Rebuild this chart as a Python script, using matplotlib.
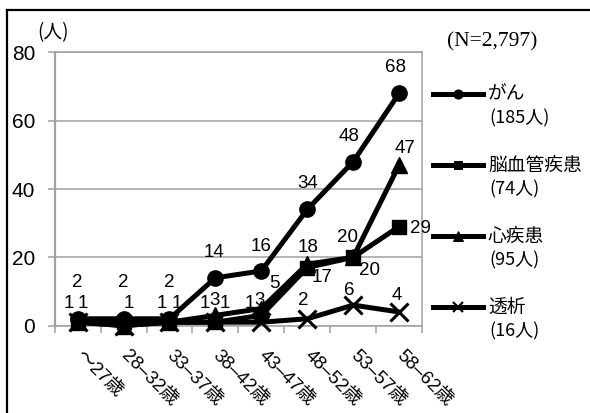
import matplotlib
matplotlib.use("Agg")
import matplotlib.pyplot as plt
from matplotlib.lines import Line2D

plt.rcParams['font.family'] = ['Liberation Sans', 'Noto Sans CJK JP']

# data
age_groups = ["～27歳", "28–32歳", "33–37歳", "38–42歳", "43–47歳", "48–52歳", "53–57歳", "58–62歳"]
cancer = [2, 2, 2, 14, 16, 34, 48, 68]
stroke = [1, 1, 1, 1, 3, 17, 20, 29]
heart = [1, 0, 1, 3, 5, 18, 20, 47]
dialysis = [1, 0, 1, 1, 1, 2, 6, 4]
series_names = ["がん", "脳血管疾患", "心疾患", "透析"]
series_totals = [185, 74, 95, 16]
total_n = "2,797"

# label offsets in pixels (dx, dy up); None hides the label
label_offsets = {
    "がん": [(0, 36), (0, 36), (0, 36), (-1, 25), (0, 24), (0, 26), (-4, 25), (-4, 26)],
    "脳血管疾患": [None, (5, 19), None, (-11, 19), (-2, 15), (15, -10), (16, -13), (21, -2)],
    "心疾患": [(5, 19), None, (7, 19), (-1, 15), (13, 25), (1, 17), (-6, 20), (6, 17)],
    "透析": [(-9, 19), None, (-8, 19), (9, 19), (-12, 19), (-4, 18), (-4, 15), (-2, 16)],
}
styles = {
    "がん": dict(marker="o", ms=11),
    "脳血管疾患": dict(marker="s", ms=9.5),
    "心疾患": dict(marker="^", ms=11),
    "透析": dict(marker="x", ms=13, mew=2.2),
}

fig = plt.figure(figsize=(5.9, 4.13), dpi=100)
ax = fig.add_axes([0.0927, 0.2116, 0.6226, 0.6615])

x = list(range(len(age_groups)))
for name, vals in zip(series_names, [cancer, stroke, heart, dialysis]):
    st = styles[name]
    ax.plot(x, vals, color="black", lw=3.6, marker=st["marker"], ms=st["ms"],
            mew=st.get("mew", 1), mfc="black", mec="black", zorder=3, clip_on=False)
    for i, v in enumerate(vals):
        off = label_offsets[name][i]
        if off is None:
            continue
        ax.annotate(str(v), (i, v), xytext=off, textcoords="offset pixels",
                    ha="center", va="center", fontsize=13.5, zorder=4)

ax.set_xlim(-0.5, len(age_groups) - 0.5)
ax.set_ylim(0, 80)
ax.set_yticks([0, 20, 40, 60, 80])
ax.yaxis.grid(True, color="#a0a0a0", lw=1.1)
ax.set_axisbelow(True)
for sp in ax.spines.values():
    sp.set_color("#a0a0a0")
    sp.set_linewidth(1.1)
ax.spines["left"].set_linewidth(1.6)
ax.tick_params(axis="y", length=5, width=1.1, color="#a0a0a0", labelsize=15, pad=9)

ax.set_xticks(x)
ax.set_xticklabels(age_groups, rotation=-45, rotation_mode="anchor", ha="left", va="center")
ax.tick_params(axis="x", which="major", length=0, labelsize=13.5, pad=20)
ax.set_xticks([i - 0.5 for i in range(len(age_groups) + 1)], minor=True)
ax.tick_params(axis="x", which="minor", length=5, width=1.1, color="#a0a0a0")

fig.text(53 / 590, 1 - 33 / 413, "(人)", ha="center", va="center", fontsize=13.5,
         family=["Noto Sans CJK JP"])
fig.text(492 / 590, 1 - 42 / 413, f"(N={total_n})", ha="center", va="center", fontsize=15.5,
         family=["Liberation Serif"])

# legend drawn in pixel space on an overlay
lg = fig.add_axes([0, 0, 1, 1], facecolor="none")
lg.set_xlim(0, 590)
lg.set_ylim(413, 0)
lg.axis("off")
for k, name in enumerate(series_names):
    y0 = 94 + k * 71
    st = styles[name]
    lg.add_line(Line2D([433, 483], [y0, y0], color="black", lw=3.6))
    lg.add_line(Line2D([458], [y0], marker=st["marker"], ms=st["ms"] * 0.6,
                       mew=st.get("mew", 1) * 0.7, color="black"))
    lg.text(488, y0, name, ha="left", va="center", fontsize=13.5, family=["Noto Sans CJK JP"])
    lg.text(489, y0 + 24, f"({series_totals[k]}人)", ha="left", va="center", fontsize=13,
            family=["Noto Sans CJK JP"])

# outer frame (top and left edges only)
lg.add_line(Line2D([7, 590], [9.5, 9.5], color="black", lw=1.6))
lg.add_line(Line2D([7, 7], [9.5, 413], color="black", lw=1.6))

fig.savefig("out.png", dpi=100)
